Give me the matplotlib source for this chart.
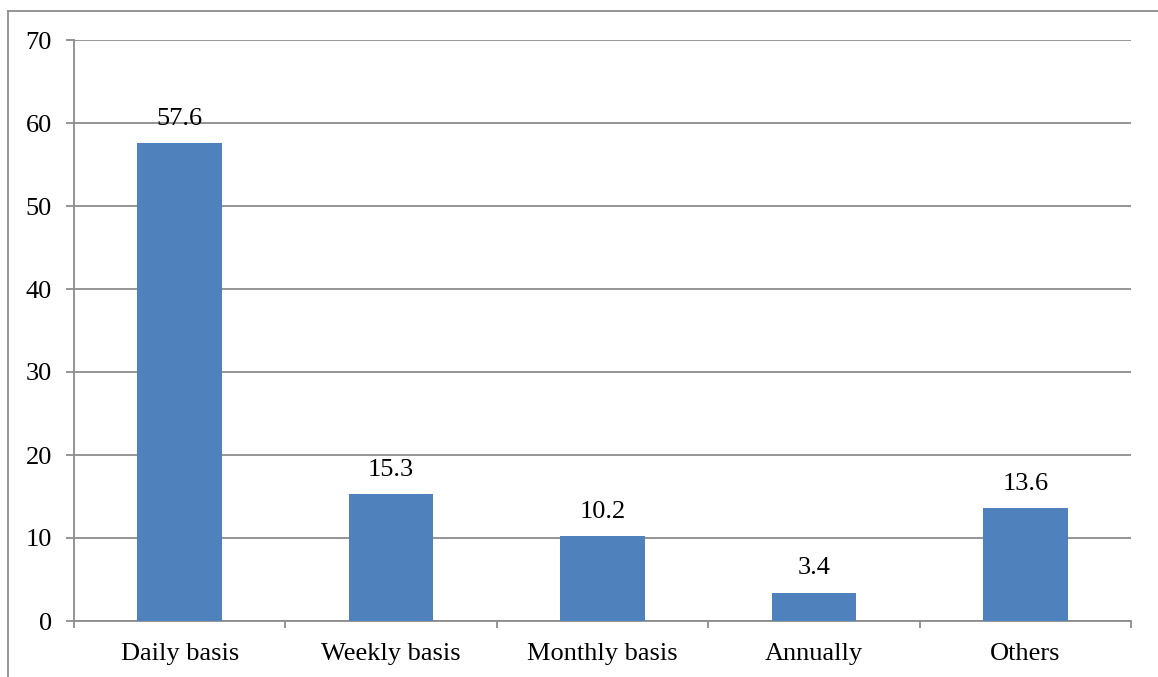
import matplotlib.pyplot as plt
from matplotlib.lines import Line2D
import numpy as np

categories = ['Daily basis', 'Weekly basis', 'Monthly basis', 'Annually', 'Others']
values = [57.6, 15.3, 10.2, 3.4, 13.6]
y_ticks = [0, 10, 20, 30, 40, 50, 60, 70]

plt.rcParams['font.family'] = 'Liberation Serif'
grey = '#8c8c8c'
fs = 19

fig = plt.figure(figsize=(11.58, 6.77), dpi=100)
ax = fig.add_axes([74 / 1158, 1 - 621 / 677, (1131 - 74) / 1158, (621 - 40) / 677])

x = np.arange(len(categories))
bars = ax.bar(x, values, width=0.4, color='#4f81bd', zorder=3)

# value labels above each bar
for xi, v in zip(x, values):
    ax.text(xi, v + 1.6, f'{v}', ha='center', va='bottom', fontsize=fs)

ax.set_xlim(-0.5, len(categories) - 0.5)
ax.set_ylim(0, 70)
ax.set_yticks(y_ticks)
ax.set_yticklabels([str(t) for t in y_ticks], fontsize=fs)
ax.yaxis.grid(True, color=grey, linewidth=1.3, zorder=0)

# category labels centred, tick marks between categories
ax.set_xticks(x)
ax.set_xticklabels(categories, fontsize=fs)
ax.tick_params(axis='x', length=0, pad=16)
ax.set_xticks(np.arange(-0.5, len(categories)), minor=True)
ax.tick_params(axis='x', which='minor', length=5, color=grey, width=1.3)
ax.tick_params(axis='y', length=6, color=grey, width=1.3, pad=10)

for side in ['top', 'right']:
    ax.spines[side].set_visible(False)
for side in ['left', 'bottom']:
    ax.spines[side].set_color(grey)
    ax.spines[side].set_linewidth(1.3)

# outer frame lines on top and left
fig.add_artist(Line2D([8 / 1158, 1], [1 - 11 / 677, 1 - 11 / 677], color=grey, linewidth=1.3))
fig.add_artist(Line2D([8 / 1158, 8 / 1158], [0, 1 - 11 / 677], color=grey, linewidth=1.3))

fig.savefig('out.png', dpi=100, facecolor='white')
